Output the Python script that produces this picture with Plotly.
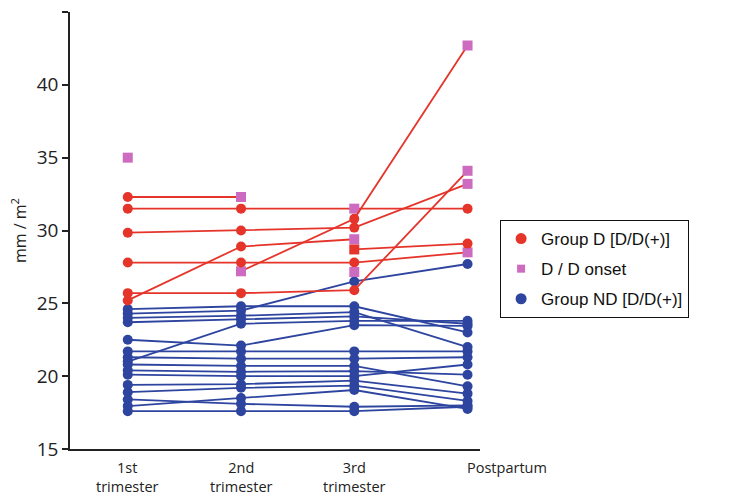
import plotly.graph_objects as go

# Visit labels (x axis)
visits = ["1st<br>trimester", "2nd<br>trimester", "3rd<br>trimester", "Postpartum"]

# Group D subjects: values per visit (None = not measured)
group_d_values = [
    [35.0, None, None, None],
    [32.3, 32.3, None, None],
    [31.5, 31.5, 31.5, 31.5],
    [29.85, 30.0, 30.2, 33.2],
    [25.2, 28.9, 29.4, None],
    [None, 27.2, 30.8, 42.7],
    [27.8, 27.8, 27.8, 28.5],
    [25.7, 25.7, 25.9, 34.1],
    [None, None, 28.7, 29.1],
    [None, None, 27.15, None],
]
# Marker kind per visit: "c" = circle, "s" = onset square, "r" = red square
group_d_kinds = [
    ["s", "", "", ""],
    ["c", "s", "", ""],
    ["c", "c", "s", "c"],
    ["c", "c", "c", "s"],
    ["c", "c", "s", ""],
    ["", "s", "c", "s"],
    ["c", "c", "c", "s"],
    ["c", "c", "c", "s"],
    ["", "", "r", "c"],
    ["", "", "s", ""],
]

# Group ND subjects: values per visit
group_nd_values = [
    [24.6, 24.8, 24.8, 23.0],
    [24.3, 24.5, 26.5, 27.7],
    [24.0, 24.15, 24.4, 22.0],
    [23.7, 23.9, 24.1, 23.6],
    [21.0, 23.6, 23.8, 23.8],
    [22.5, 22.1, 23.5, 23.45],
    [21.7, 21.7, 21.7, 21.7],
    [21.3, 21.2, 21.2, 21.3],
    [20.8, 20.7, 20.7, 19.3],
    [20.4, 20.3, 20.35, 20.1],
    [20.1, 20.0, 20.0, 20.8],
    [19.4, 19.45, 19.7, 18.8],
    [18.9, 19.2, 19.35, 18.3],
    [17.95, 18.5, 19.05, 17.75],
    [18.4, 18.1, 17.9, 18.0],
    [17.6, 17.6, 17.6, 17.9],
]

legend_labels = ["Group D [D/D(+)]", "D / D onset", "Group ND [D/D(+)]"]

RED = "#E5352B"
PINK = "#CC6BC0"
BLUE = "#2E45A0"

x_pos = list(range(len(visits)))
fig = go.Figure()

for vals in group_nd_values:
    fig.add_trace(go.Scatter(
        x=x_pos, y=vals, mode="lines+markers",
        line=dict(color=BLUE, width=1.8),
        marker=dict(symbol="circle", size=10, color=BLUE),
        showlegend=False, hoverinfo="skip",
    ))

kind_symbol = {"c": "circle", "s": "square", "r": "square", "": "circle"}
kind_color = {"c": RED, "s": PINK, "r": RED, "": RED}
for vals, kinds in zip(group_d_values, group_d_kinds):
    fig.add_trace(go.Scatter(
        x=x_pos, y=vals, mode="lines+markers",
        line=dict(color=RED, width=1.8),
        marker=dict(symbol=[kind_symbol[k] for k in kinds],
                    color=[kind_color[k] for k in kinds], size=10),
        showlegend=False, hoverinfo="skip",
    ))

# Legend entries
for name, sym, col, sz, grp in [
    (legend_labels[0], "circle", RED, 11, "a"),
    (legend_labels[1], "square", PINK, 8, "b"),
    (legend_labels[2], "circle", BLUE, 11, "c"),
]:
    fig.add_trace(go.Scatter(
        x=[None], y=[None], mode="markers", name=name, legendgroup=grp,
        marker=dict(symbol=sym, color=col, size=sz),
    ))

# Visit labels under the axis; the last one is set flush-left at its position
for i, label in enumerate(visits):
    last = i == len(visits) - 1
    fig.add_annotation(
        x=i - (0.02 if last else 0), y=0, xref="x", yref="paper",
        yshift=-7, text=label, showarrow=False,
        xanchor="left" if last else "center", yanchor="top",
        font=dict(size=14.5, family="Open Sans, sans-serif", color="#222"),
    )

fig.update_layout(
    width=736, height=499,
    margin=dict(l=70, r=256, t=12, b=50),
    paper_bgcolor="white", plot_bgcolor="white",
    font=dict(family="Liberation Sans, Arial, sans-serif", color="#111"),
    legend=dict(
        x=1.049, y=0.524, xanchor="left", yanchor="top",
        bordercolor="#111", borderwidth=1,
        font=dict(size=17, family="Liberation Sans, Arial, sans-serif"),
        tracegroupgap=5, itemsizing="trace", itemwidth=30,
    ),
)
fig.update_xaxes(
    range=[-0.51, 3.11], tickvals=x_pos, showticklabels=False, automargin=False,
    showline=True, linecolor="#222", linewidth=1.5,
    ticks="", showgrid=False, zeroline=False,
)
fig.update_yaxes(
    range=[15, 45], tickvals=[15, 20, 25, 30, 35, 40, 45], automargin=False,
    showline=True, linecolor="#222", linewidth=1.5,
    ticks="outside", ticklen=6, tickcolor="#222", tickwidth=1.5,
    showgrid=False, zeroline=False,
    tickfont=dict(size=19, family="Open Sans, sans-serif", color="#222"),
    title=dict(text="mm / m<sup>2</sup>", standoff=6,
               font=dict(size=16, family="Open Sans, sans-serif", color="#222")),
)

fig.write_html("out.html")
